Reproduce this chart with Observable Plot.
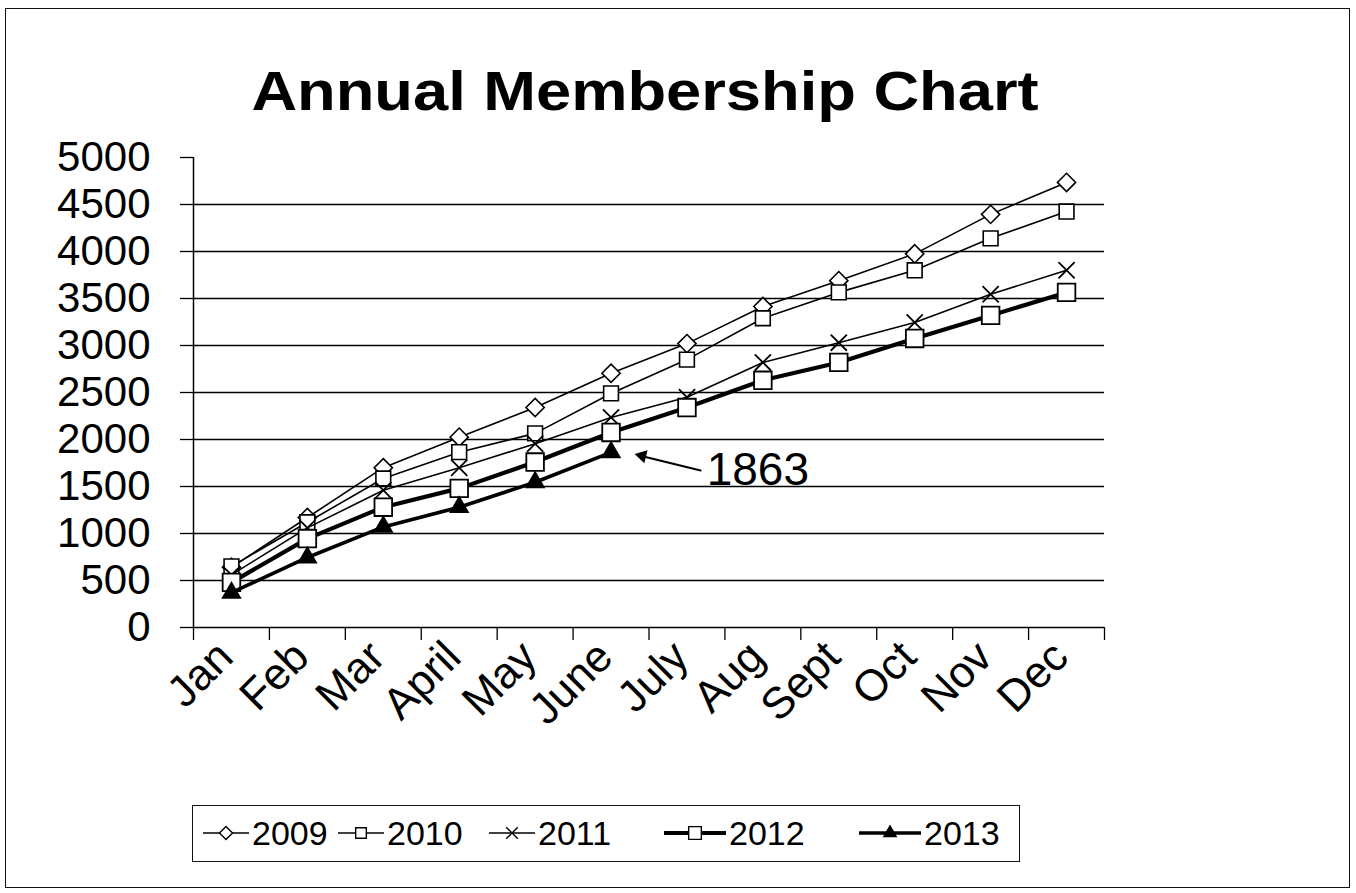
<!DOCTYPE html>
<html>
<head>
<meta charset="utf-8">
<script src="https://cdn.jsdelivr.net/npm/d3@7"></script>
<script src="https://cdn.jsdelivr.net/npm/@observablehq/plot@0.6"></script>
<style>
  html, body { margin: 0; padding: 0; background: #fff; }
  #page { position: relative; width: 1356px; height: 893px; overflow: hidden; background: #fff;
          font-family: "Liberation Sans", Arial, Helvetica, sans-serif; color: #000; }
  #frame { position: absolute; left: 5px; top: 8px; width: 1345px; height: 880px; border: 1.5px solid #111; box-sizing: border-box; }
  #title { position: absolute; left: 0; width: 1290px; top: 64px; text-align: center; font-weight: bold; font-size: 55px; line-height: 1;
           transform: scaleX(1.15); transform-origin: 645px 0; }
  #chart { position: absolute; left: 0; top: 130px; }
  #legend { position: absolute; left: 192px; top: 805px; width: 828px; height: 57px; border: 1.5px solid #111; box-sizing: border-box; }
  .item { position: absolute; top: 0; height: 54px; display: flex; align-items: center; font-size: 34px; }
  .item svg { display: block; margin-right: 3px; }
</style>
</head>
<body>
<div id="page">
  <div id="frame"></div>
  <div id="title">Annual Membership Chart</div>
  <div id="chart"></div>
  <div id="legend"></div>
</div>
<script>
// ---- data ----
const months = ["Jan", "Feb", "Mar", "April", "May", "June", "July", "Aug", "Sept", "Oct", "Nov", "Dec"];
const years = ["2009", "2010", "2011", "2012", "2013"];
const v2009 = [640, 1170, 1700, 2025, 2340, 2705, 3020, 3415, 3690, 3975, 4395, 4735];
const v2010 = [650, 1120, 1585, 1865, 2065, 2490, 2850, 3290, 3565, 3800, 4140, 4425];
const v2011 = [560, 1060, 1460, 1700, 1955, 2235, 2450, 2820, 3030, 3245, 3545, 3800];
const v2012 = [480, 945, 1280, 1480, 1760, 2075, 2340, 2630, 2820, 3075, 3320, 3565];
const v2013 = [370, 745, 1070, 1280, 1545, 1863];
const yTicks = [0, 500, 1000, 1500, 2000, 2500, 3000, 3500, 4000, 4500, 5000];
const gridValues = [500, 1000, 1500, 2000, 2500, 3000, 3500, 4000, 4500];
const annotation = [{month: "June", value: 1863, label: "1863"}];

// ---- styles per series ----
const seriesValues = {"2009": v2009, "2010": v2010, "2011": v2011, "2012": v2012, "2013": v2013};
const seriesStyle = {
  "2009": {symbol: "diamond2", r: 8.2, lineWidth: 1.6, fill: "white", dotStroke: 1.6},
  "2010": {symbol: "square2", r: 9.4, lineWidth: 1.6, fill: "white", dotStroke: 1.6},
  "2011": {symbol: "times", r: 7.4, lineWidth: 1.6, fill: "none", dotStroke: 1.8},
  "2012": {symbol: "square2", r: 11.2, lineWidth: 4.2, fill: "white", dotStroke: 1.8},
  "2013": {symbol: "triangle", r: 7.6, lineWidth: 3.6, fill: "black", dotStroke: 0}
};

const rowsFor = (y) => seriesValues[y].map((v, i) => ({year: y, month: months[i], x: i + 0.5, value: v}));

const lineMarks = [];
for (const y of years) {
  const s = seriesStyle[y];
  const rows = rowsFor(y);
  lineMarks.push(Plot.line(rows, {x: "x", y: "value", stroke: "black", strokeWidth: s.lineWidth, strokeLinejoin: "round"}));
  lineMarks.push(Plot.dot(rows, {x: "x", y: "value", symbol: s.symbol, r: s.r, stroke: s.dotStroke ? "black" : "none",
    strokeWidth: s.dotStroke, fill: s.fill}));
}

const annX = (d) => months.indexOf(d.month) + 0.5;

const chart = Plot.plot({
  width: 1356,
  height: 620,
  marginTop: 27,
  marginBottom: 123,
  marginLeft: 193,
  marginRight: 252,
  x: {type: "linear", domain: [0, 12], axis: null},
  y: {type: "linear", domain: [0, 5000], axis: null},
  style: {fontFamily: "'Liberation Sans', Arial, Helvetica, sans-serif", fontSize: "42px", color: "black", background: "transparent", overflow: "visible"},
  marks: [
    Plot.ruleY(gridValues, {stroke: "black", strokeWidth: 1.3}),
    Plot.ruleY([0], {stroke: "black", strokeWidth: 1.5}),
    Plot.ruleX([0], {y1: 0, y2: 5000, stroke: "black", strokeWidth: 1.5}),
    Plot.axisY({ticks: yTicks, tickSize: 13, tickPadding: 30, label: null, stroke: "black", strokeWidth: 1.3, fontSize: 42, tickFormat: (d) => String(d)}),
    Plot.axisX({ticks: d3.range(0, 13), tickSize: 13, tickFormat: () => "", label: null, stroke: "black", strokeWidth: 1.3}),
    Plot.axisX({ticks: months.map((m, i) => i + 0.5), tickSize: 0, tickPadding: 22, tickRotate: -45, label: null, fontSize: 44, dx: -6,
      tickFormat: (d) => months[Math.round(d - 0.5)]}),
    ...lineMarks,
    Plot.arrow(annotation, {x1: (d) => annX(d) + 1.18, y1: (d) => d.value - 193, x2: (d) => annX(d) + 0.36, y2: (d) => d.value - 30,
      stroke: "black", strokeWidth: 2, headLength: 0}),
    Plot.dot(annotation, {x: (d) => annX(d) + 0.41, y: (d) => d.value - 37, symbol: "triangle", r: 5, rotate: -76, fill: "black"}),
    Plot.text(annotation, {x: (d) => annX(d) + 1.26, y: (d) => d.value - 193, text: "label", textAnchor: "start", lineAnchor: "middle", fontSize: 46, fill: "black"})
  ]
});
document.getElementById("chart").appendChild(chart);

// ---- legend ----
const legend = d3.select("#legend");
const itemLeft = {"2009": 10, "2010": 145, "2011": 296, "2012": 471, "2013": 666};
const symbolMap = {diamond2: d3.symbolDiamond2, square2: d3.symbolSquare2, times: d3.symbolTimes, triangle: d3.symbolTriangle};
for (const y of years) {
  const s = seriesStyle[y];
  const item = legend.append("div").attr("class", "item").style("left", itemLeft[y] + "px");
  const w = y === "2012" || y === "2013" ? 62 : 46;
  const svg = item.append("svg").attr("width", w).attr("height", 30);
  svg.append("line").attr("x1", 0).attr("x2", w).attr("y1", 15).attr("y2", 15)
    .attr("stroke", "black").attr("stroke-width", s.lineWidth);
  const rr = s.r * 0.72;
  svg.append("path").attr("transform", `translate(${w / 2},15)`)
    .attr("d", d3.symbol(symbolMap[s.symbol], Math.PI * rr * rr)())
    .attr("fill", s.fill).attr("stroke", s.dotStroke ? "black" : "none").attr("stroke-width", s.dotStroke ? 1.4 : 0);
  item.append("span").text(y);
}
</script>
</body>
</html>
